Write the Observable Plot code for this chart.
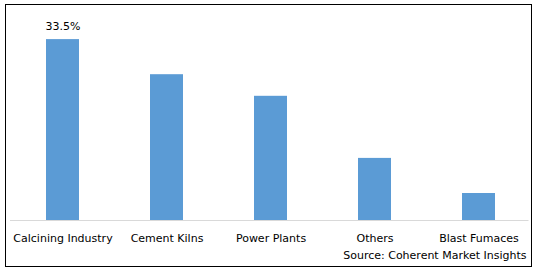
<!DOCTYPE html>
<html>
<head>
<meta charset="utf-8">
<script src="https://cdn.jsdelivr.net/npm/d3@7"></script>
<script src="https://cdn.jsdelivr.net/npm/@observablehq/plot@0.6"></script>
<style>
  html, body { margin: 0; padding: 0; background: #fff; }
</style>
</head>
<body>
<div id="chart"></div>
<script>
const categories = ["Calcining Industry", "Cement Kilns", "Power Plants", "Others", "Blast Fumaces"];
const shares = [33.5, 27.0, 23.0, 11.5, 5.0];
const labels = ["33.5%", "", "", "", ""];
const source = "Source: Coherent Market Insights";

const data = categories.map((c, i) => ({category: c, share: shares[i], label: labels[i]}));

const chart = Plot.plot({
  width: 538,
  height: 272,
  marginLeft: 9,
  marginRight: 6.5,
  marginTop: 31,
  marginBottom: 52,
  style: {fontFamily: "'DejaVu Sans', sans-serif", fontSize: "11px", color: "#000", background: "#fff"},
  x: {domain: categories, paddingInner: 0.684, paddingOuter: 0.344, label: null, tickSize: 0, tickPadding: 14},
  y: {domain: [0, 35], axis: null},
  marks: [
    Plot.frame({stroke: "#000", strokeWidth: 1, insetLeft: -4, insetRight: 0.5, insetTop: -27, insetBottom: -46}),
    Plot.barY(data, {x: "category", y: "share", fill: "#5B9BD5"}),
    Plot.ruleY([0], {stroke: "#d9d9d9", strokeWidth: 1, insetLeft: 1, insetRight: 3}),
    Plot.text(data.filter(d => d.label), {x: "category", y: "share", text: "label", dy: -13, lineAnchor: "middle", fill: "#000", fontSize: 11}),
    Plot.text([source], {frameAnchor: "bottom-right", dx: -5.5, dy: 35, textAnchor: "end", lineAnchor: "middle", fill: "#000"})
  ]
});
document.getElementById("chart").appendChild(chart);
</script>
</body>
</html>
